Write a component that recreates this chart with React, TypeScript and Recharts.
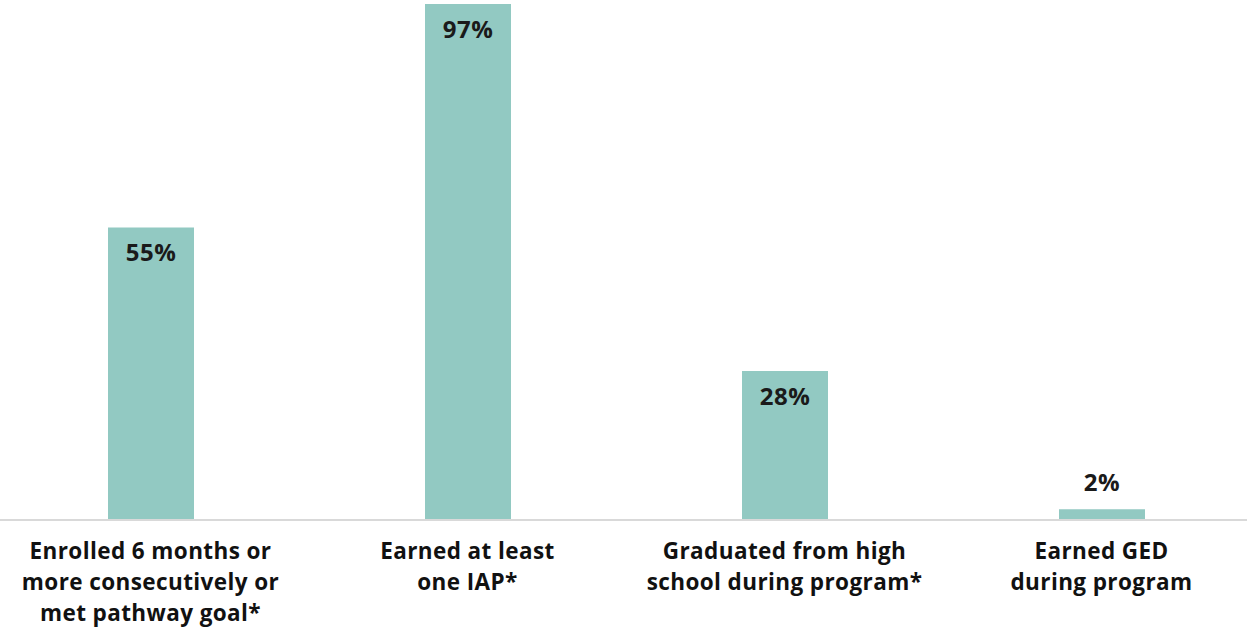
import React from "react";
import { BarChart, Bar, XAxis, YAxis, LabelList } from "recharts";

const categories = [
  "Enrolled 6 months or\nmore consecutively or\nmet pathway goal*",
  "Earned at least\none IAP*",
  "Graduated from high\nschool during program*",
  "Earned GED\nduring program",
];
const values = [55, 97, 28, 2];

const data = categories.map((c, i) => ({ name: c, value: values[i] }));

const FONT = "'Open Sans', sans-serif";

const Tick = (props: any) => {
  const { x, payload } = props;
  const lines = String(payload.value).split("\n");
  return (
    <text
      x={x}
      y={559}
      textAnchor="middle"
      fontFamily={FONT}
      fontWeight={700}
      fontSize={22.5}
      letterSpacing={0.4}
      fill="#111111"
    >
      {lines.map((l: string, i: number) => (
        <tspan key={i} x={x} dy={i === 0 ? 0 : 31}>
          {l}
        </tspan>
      ))}
    </text>
  );
};

const ValueLabel = (props: any) => {
  const { x, y, width, height, value } = props;
  const inside = height > 40;
  return (
    <text
      x={x + width / 2}
      y={inside ? y + 34 : y - 18}
      textAnchor="middle"
      fontFamily={FONT}
      fontWeight={700}
      fontSize={24}
      letterSpacing={0.5}
      fill="#1a1a1a"
    >
      {value}%
    </text>
  );
};

export default function App() {
  return (
    <div style={{ position: "absolute", left: 0, top: 0, width: 1247, height: 630 }}>
      <BarChart
        width={1247}
        height={630}
        data={data}
        margin={{ top: 4, bottom: 0, left: -8, right: -13 }}
      >
        <YAxis hide domain={[0, 97]} />
        <XAxis
          dataKey="name"
          tick={<Tick />}
          tickLine={false}
          axisLine={{ stroke: "#d9d9d9", strokeWidth: 2 }}
          interval={0}
          height={110}
        />
        <Bar dataKey="value" fill="#92c9c2" barSize={86} isAnimationActive={false}>
          <LabelList dataKey="value" content={<ValueLabel />} />
        </Bar>
      </BarChart>
    </div>
  );
}
